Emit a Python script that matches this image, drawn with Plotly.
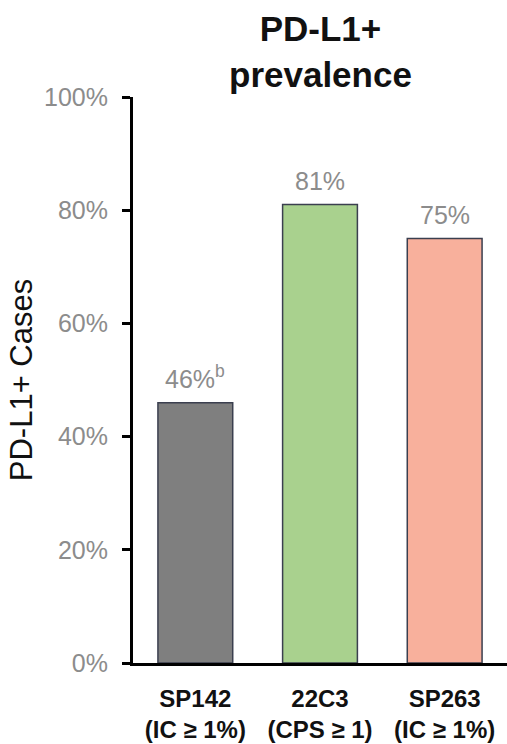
import plotly.graph_objects as go

# PD-L1+ prevalence by assay
assays = ["SP142<br>(IC ≥ 1%)", "22C3<br>(CPS ≥ 1)", "SP263<br>(IC ≥ 1%)"]
prevalence = [46, 81, 75]
value_labels = ["46%<sup>b</sup>", "81%", "75%"]
bar_colors = ["#7f7f7f", "#a9d18e", "#f8b09c"]
y_ticks = [0, 20, 40, 60, 80, 100]
y_tick_labels = ["0%", "20%", "40%", "60%", "80%", "100%"]

FONT = "Liberation Sans, Arial, sans-serif"

fig = go.Figure()
fig.add_trace(go.Bar(
    x=assays,
    y=prevalence,
    width=0.6,
    marker=dict(color=bar_colors, line=dict(color="#3b3f4f", width=1.5)),
    hoverinfo="skip",
))

for cat, val, lab in zip(assays, prevalence, value_labels):
    fig.add_annotation(
        x=cat, y=val, text=lab, showarrow=False,
        xref="x", yref="y", yanchor="bottom", yshift=8,
        font=dict(family=FONT, size=25, color="#8c8c8c"),
    )

# Chart heading above the plot area
fig.add_annotation(
    x=0.5, xref="paper", y=1.081, yref="paper",
    yanchor="middle",
    text="<b>PD-L1+<br>prevalence</b>", showarrow=False,
    font=dict(family=FONT, size=35, color="#111111"),
)

fig.update_layout(
    width=507, height=744,
    margin=dict(l=133, r=0, t=97, b=81),
    paper_bgcolor="white", plot_bgcolor="white",
    showlegend=False,
    font=dict(family=FONT),
)
fig.update_xaxes(
    showline=True, linecolor="black", linewidth=3,
    ticks="", showgrid=False,
    range=[-0.5, 2.5],
    ticklabelstandoff=12,
    tickfont=dict(family=FONT, size=24, color="#111111"),
    tickprefix="<b>", ticksuffix="</b>",
)
fig.update_yaxes(
    range=[0, 100],
    tickvals=y_ticks, ticktext=y_tick_labels,
    showline=True, linecolor="black", linewidth=3,
    ticks="outside", ticklen=8, tickwidth=3, tickcolor="black",
    ticklabelstandoff=9,
    showgrid=False, zeroline=False,
    tickfont=dict(family=FONT, size=25, color="#8c8c8c"),
    title=dict(text="PD-L1+ Cases", font=dict(family=FONT, size=31, color="#111111"), standoff=3),
)

fig.write_html("out.html")
